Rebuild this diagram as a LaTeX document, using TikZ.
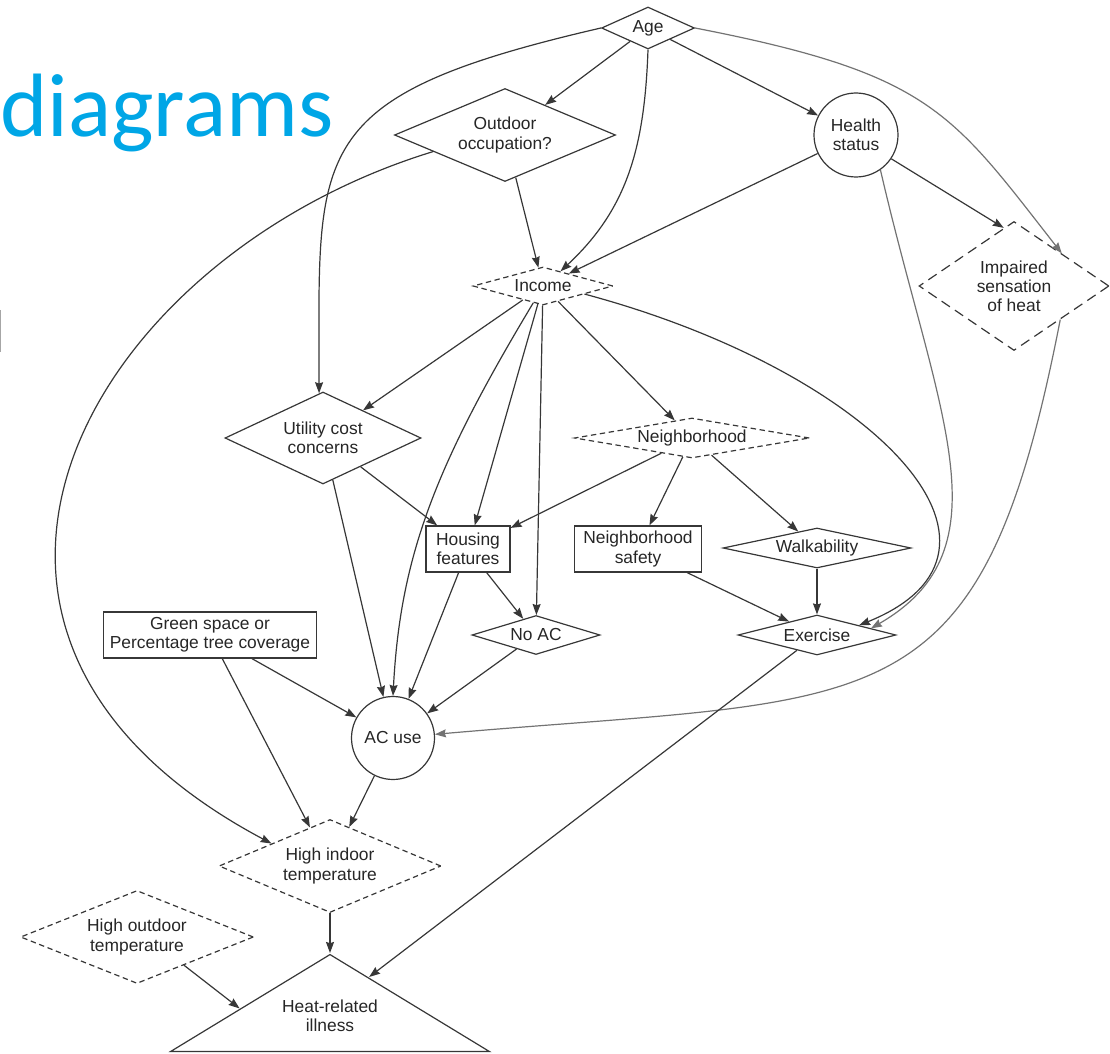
\documentclass[tikz,border=0pt]{standalone}
\usepackage{fontspec}
\setmainfont{Liberation Sans}
\newfontfamily\titlefont{Carlito}
\usetikzlibrary{arrows.meta, shapes.geometric, positioning}

\definecolor{slideblue}{RGB}{0,166,230}
\definecolor{inkgray}{RGB}{55,55,55}

\begin{document}
\begin{tikzpicture}[->, > = {Stealth[length=5.5pt, width=4pt, inset=0.6pt]}, x=0.5pt, y=0.5pt, semithick, color=inkgray,
	every node/.style = {text=black!85, font=\fontsize{8.7}{9.6}\selectfont, align=center, inner sep=0pt},
	choice/.style n args = {3}{diamond, draw, minimum width=#1pt, minimum height=#2pt, aspect=#3},
	hidden/.style = {dash pattern=on 2.7pt off 1.8pt},
	box/.style 2 args = {rectangle, draw, minimum width=#1pt, minimum height=#2pt},
	round/.style = {circle, draw, minimum size=#1pt},
	outcome/.style = {isosceles triangle, draw, shape border rotate=90, isosceles triangle stretches, minimum width=159.5pt, minimum height=48.5pt},
	faint/.style = {draw=black!55}]

\useasboundingbox (0,0) rectangle (1110,-1054);
\clip (0,0) rectangle (1110,-1054);

% slide remains
\node[anchor=base west, font=\titlefont\fontsize{45}{50}\selectfont, text=slideblue]	(title)	at (0,-137)	{diagrams};
\draw[-, black!35, line width=0.7pt] (0.7,-310) -- (0.7,-352);

\node[choice={46.5}{21}{2.21}]					(age)		at (648,-28)		{Age};
\node[choice={110.5}{46.5}{2.38}]				(outdoor)	at (505,-135)		{Outdoor\\occupation?};
\node[round=42]									(health)	at (856,-135)		{Health\\status};
\node[choice={70}{19}{3.68}, hidden]			(income)	at (543,-286)		{Income};
\node[choice={95}{64.5}{1.47}, dash pattern=on 5pt off 3pt]	(impaired)	at (1014,-286)	{Impaired\\sensation\\of heat};
\node[choice={98}{46}{2.13}]					(utility)	at (323,-438)		{Utility cost\\concerns};
\node[choice={117.5}{20}{5.87}, hidden]			(neigh)		at (692,-438)		{Neighborhood};
\node[box={42}{23}]								(housing)	at (468,-549)		{Housing\\features};
\node[box={63.5}{23}]							(safety)	at (638,-549)		{Neighborhood\\safety};
\node[choice={94}{20}{4.7}]						(walk)		at (817,-548)		{Walkability};
\node[choice={79}{20}{3.95}]					(exercise)	[below of=walk, node distance=43.5pt]	{Exercise};
\node[choice={64}{19.5}{3.28}]					(noac)		at (536,-635)		{No AC};
\node[box={106.5}{23}]							(green)		at (210,-635)		{Green space or\\Percentage tree coverage};
\node[round=41.5]								(acuse)		at (393,-738)		{AC use};
\node[choice={111}{46.5}{2.39}, hidden]			(hit)		at (330,-866)		{High indoor\\temperature};
\node[choice={116.5}{46.5}{2.5}, hidden]		(hot)		at (137,-937)		{High outdoor\\temperature};
\node[outcome, anchor=apex]						(hri)		at (330,-953)		{};
\node											(hrilabel)	at (330,-1016)		{Heat-related\\illness};

\path	(age)			edge													(outdoor);
\path	(age)			edge													(health);
\path	(age.south)		edge[out=-92, in=43, out distance=50pt, in distance=45pt]		(income.40);
\path	(age.west)		edge[out=193, in=90, out distance=153pt, in distance=122pt]	(utility.95);
\path	(age.east)		edge[faint, out=-11, in=128, out distance=120pt, in distance=90pt]	(impaired.north east);
\path	(outdoor)		edge													(income);
\path	(outdoor.193)	edge[out=197, in=152, out distance=180pt, in distance=225pt]	(hit.159);
\path	(health)		edge													(income);
\path	(health.-34)	edge													(impaired.100);
\path	(health.-55)	edge[faint, out=-77, in=30, out distance=125pt, in distance=80pt]	(exercise.7);
\path	(impaired.-36)	edge[faint, out=-101, in=5, out distance=210pt, in distance=225pt]	(acuse.5);
\path	(income)		edge													(utility);
\path	(income.-120)	edge[out=-121, in=87, out distance=95pt, in distance=70pt]		(acuse.north);
\path	(income)		edge													(housing);
\path	(income)		edge													(noac);
\path	(income)		edge													(neigh);
\path	(income.-11)	edge[out=-15, in=22, out distance=150pt, in distance=100pt]	(exercise.13);
\path	(utility)		edge													(housing);
\path	(utility)		edge													(acuse);
\path	(neigh)			edge													(housing);
\path	(neigh)			edge													(safety);
\path	(neigh)			edge													(walk);
\path	(housing)		edge													(acuse);
\path	(housing)		edge													(noac);
\path	(green)			edge													(acuse);
\path	(green)			edge													(hit);
\path	(noac)			edge													(acuse);
\path	(safety)		edge													(exercise);
\path	(walk)			edge													(exercise);
\path	(exercise)		edge													(hri);
\path	(acuse)			edge													(hit);
\path	(hit)			edge													(hri.apex);
\path	(hot.-31)		edge													(hri.181);
\end{tikzpicture}
\end{document}
